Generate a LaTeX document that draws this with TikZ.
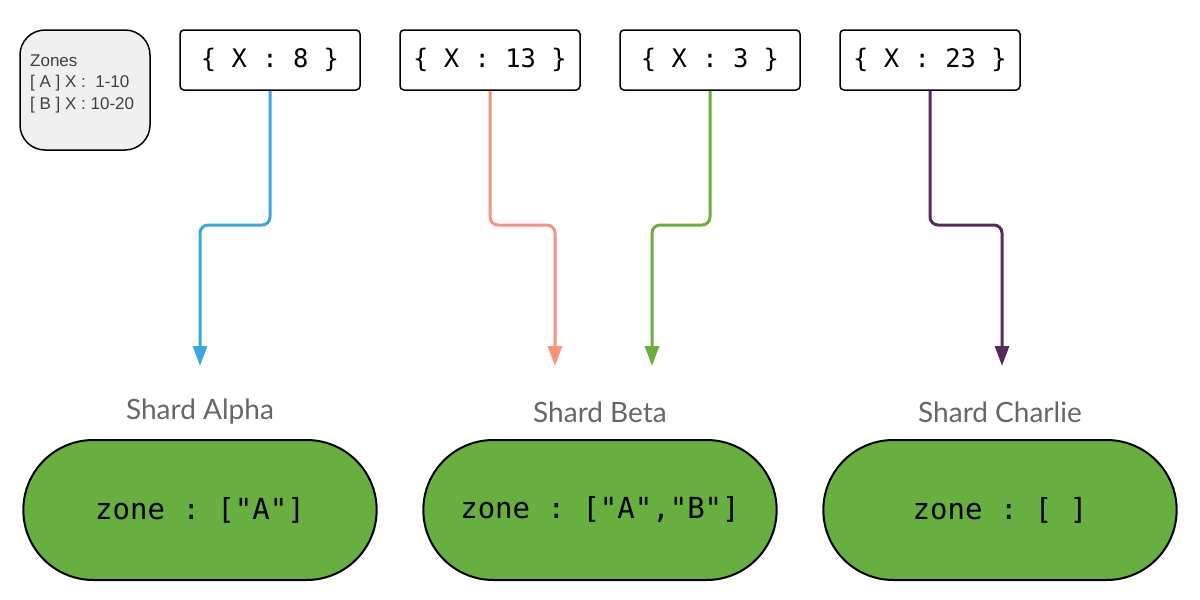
\documentclass[tikz,border=0pt]{standalone}
\usepackage{fontspec}
\setmonofont{DejaVu Sans Mono}
\newfontfamily\lblfont{Lato}
\newfontfamily\notefont{Liberation Sans}
\usetikzlibrary{arrows.meta,shapes.misc,positioning}

\definecolor{cblue}{HTML}{3AA8E0}
\definecolor{csalmon}{HTML}{F8917E}
\definecolor{cgreen}{HTML}{6AAF3D}
\definecolor{cpurple}{HTML}{582A5B}
\definecolor{shardfill}{HTML}{67AF3F}
\definecolor{notefill}{HTML}{F0F0F0}
\definecolor{lblgray}{HTML}{666666}

\begin{document}
\begin{tikzpicture}[x=1pt, y=-1pt,
    doc/.style={draw, line width=1.5pt, rounded corners=4pt, minimum width=180pt, minimum height=60pt, font=\ttfamily\fontsize{25.5}{30}\selectfont},
    note/.style={draw, line width=1.5pt, rounded corners=25pt, fill=notefill, minimum width=130pt, minimum height=120pt},
    shard/.style={draw, line width=2pt, rounded rectangle, fill=shardfill, minimum width=360pt, minimum height=140pt, font=\ttfamily\fontsize{29}{34}\selectfont},
    lbl/.style={font=\lblfont\fontsize{28}{32}\selectfont, text=lblgray},
    flow/.style={line width=3pt, rounded corners=8pt, -{Triangle[length=20pt,width=14pt]}, draw=#1}
]
\useasboundingbox (0,0) rectangle (1200,600);

% zones legend
\node[note] (zones) at (85,90) {};
\node[anchor=north west, inner sep=0pt, align=left, text=black!75, font=\notefont\fontsize{17}{21.5}\selectfont] (zonesTxt) at (30,54.5) {Zones\\{[} A ] X :\ \ 1-10\\{[} B ] X : 10-20};

% documents
\node[doc] (d8) at (270,60) {\{ X : 8 \}};
\node[doc] (d13) at (490,60) {\{ X : 13 \}};
\node[doc] (d3) at (710,60) {\{ X : 3 \}};
\node[doc] (d23) at (930,60) {\{ X : 23 \}};

% shards
\node[shard] (alpha) at (200,510) {zone : ["A"]};
\node[shard] (beta) at (600,510) {zone : ["A","B"]};
\node[shard] (charlie) at (1000,510) {zone : [ ]};
\node[lbl] (alphaLbl) at (200,412) {Shard Alpha};
\node[lbl] (betaLbl) at (600,412) {Shard Beta};
\node[lbl] (charlieLbl) at (1000,412) {Shard Charlie};

% arrow tips
\coordinate (tA) at (200,366);
\coordinate (tB1) at (555,366);
\coordinate (tB2) at (652,366);
\coordinate (tC) at (1002,366);

\draw[flow=cblue] (d8.south) -- (d8.south |- 0,225) -| (tA);
\draw[flow=csalmon] (d13.south) -- (d13.south |- 0,225) -| (tB1);
\draw[flow=cgreen] (d3.south) -- (d3.south |- 0,225) -| (tB2);
\draw[flow=cpurple] (d23.south) -- (d23.south |- 0,225) -| (tC);
\end{tikzpicture}
\end{document}
